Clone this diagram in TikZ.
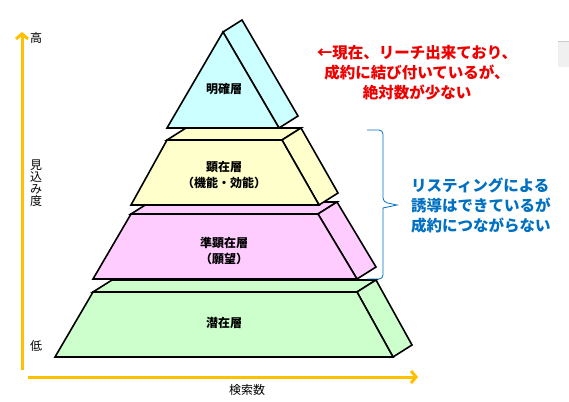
\documentclass[tikz,border=0pt]{standalone}
\usepackage{fontspec}
\newfontfamily\jpfont{Noto Sans CJK JP}
\usetikzlibrary{arrows.meta}

\definecolor{axisorange}{RGB}{255,192,0}
\definecolor{layercyan}{RGB}{204,255,255}
\definecolor{layeryellow}{RGB}{255,255,204}
\definecolor{layerpink}{RGB}{255,204,255}
\definecolor{layergreen}{RGB}{204,255,204}
\definecolor{notered}{RGB}{238,0,0}
\definecolor{noteblue}{RGB}{0,112,192}

\begin{document}
\begin{tikzpicture}[x=1pt,y=-1pt,
    layer/.style={draw=black,line width=1.6pt,line join=miter},
    layertext/.style={font=\jpfont\bfseries\fontsize{12}{16}\selectfont,align=center,inner sep=0pt},
    axislabel/.style={font=\jpfont\fontsize{12}{12}\selectfont,align=center,inner sep=0pt},
    axisline/.style={draw=axisorange,line width=3pt,-{Straight Barb[length=5pt,width=12pt]}},
    notetext/.style={font=\jpfont\bfseries\fontsize{15.5}{20}\selectfont,inner sep=0pt}]
  \useasboundingbox (0,0) rectangle (569,401);   % page size
  \fill[gray!12] (558,41) rectangle (569,67);     % grey box at the right edge
  \draw[gray!40] (558,41.5) -- (569,41.5);

  % axes
  \coordinate (ybase) at (22,370);
  \coordinate (ytip) at (22,32);
  \coordinate (xbase) at (28,377);
  \coordinate (xtip) at (418,377);
  \draw[axisline] (ybase) -- (ytip);   % y-axis
  \draw[axisline] (xbase) -- (xtip);   % x-axis
  \node[axislabel] (high) at (36,38) {高};
  \node[axislabel] (low) at (36,346) {低};
  \node[axislabel] (ylabel) at (36,183) {見\\込\\み\\度};
  \node[axislabel] (xlabel) at (247,390) {検索数};

  % slabs of the pyramid, bottom one first
  \foreach \col/\yt/\yb/\xtl/\xtr/\xbr/\xbl in {layergreen/292/357/93/357/393/55,
      layerpink/214/279/131/318/357/93, layeryellow/140/205/167/282/319/131} {
    \filldraw[layer,fill=\col] (\xtl,\yt) -- (\xtr,\yt) -- ++(19,-12) -- (\xtl+19,\yt-12) -- cycle;   % top
    \filldraw[layer,fill=\col] (\xtr,\yt) -- ++(19,-12) -- (\xbr+19,\yb-12) -- (\xbr,\yb) -- cycle;   % side
    \filldraw[layer,fill=\col] (\xtl,\yt) -- (\xtr,\yt) -- (\xbr,\yb) -- (\xbl,\yb) -- cycle;   % front
  }
  % top of the pyramid
  \filldraw[layer,fill=layercyan] (223,32) -- ++(19,-12) -- (298,116) -- (279,128) -- cycle;
  \filldraw[layer,fill=layercyan] (223,32) -- (279,128) -- (167,128) -- cycle;

  \node[layertext] (meikaku) at (224,89) {明確層};
  \node[layertext] (kenzai) at (224,175) {顕在層\\（機能・効能）};
  \node[layertext] (junkenzai) at (224,251) {準顕在層\\（願望）};
  \node[layertext] (senzai) at (224,323) {潜在層};

  % notes
  \node[notetext,text=notered,align=center] (topnote) at (417,73)
    {←現在、リーチ出来ており、\\成約に結び付いているが、\\絶対数が少ない};
  \coordinate (bracetop) at (367,130);
  \coordinate (bracebot) at (367,279);
  \coordinate (bracetip) at (397,205);
  \draw[noteblue,line width=0.8pt,rounded corners=4pt] (bracetop) -- (383,130) -- (383,202)
    [sharp corners] -- (bracetip) -- (383,208) [rounded corners=4pt] -- (383,279) -- (bracebot);
  \node[notetext,text=noteblue,align=left,anchor=west] (midnote) at (411,206)
    {リスティングによる\\誘導はできているが\\成約につながらない};
\end{tikzpicture}
\end{document}
